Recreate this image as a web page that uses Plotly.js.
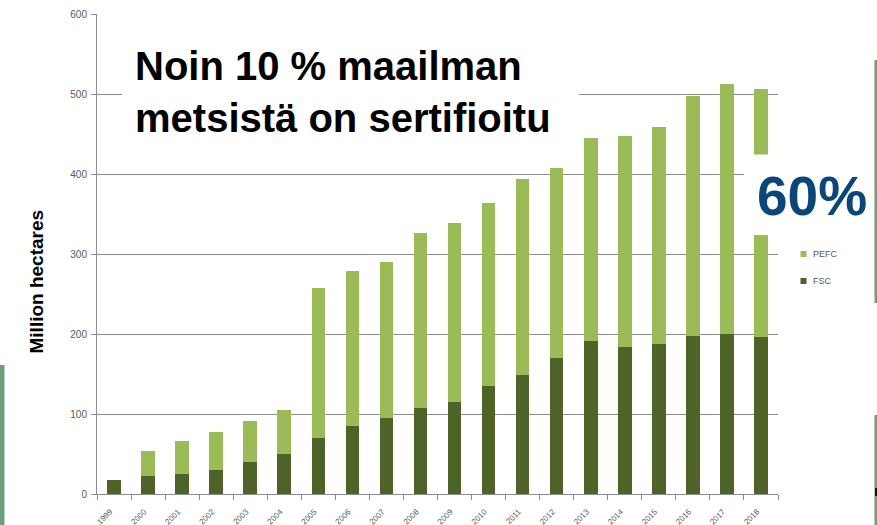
<!DOCTYPE html>
<html>
<head>
<meta charset="utf-8">
<script src="https://cdn.plot.ly/plotly-3.0.1.min.js"></script>
<style>html,body{margin:0;padding:0;background:#fff;}#chart{width:877px;height:525px;}</style>
</head>
<body>
<div id="chart"></div>
<script>
// ---- data ----
const years = ['1999','2000','2001','2002','2003','2004','2005','2006','2007','2008','2009','2010','2011','2012','2013','2014','2015','2016','2017','2018'];
const fsc  = [18, 22, 25, 30, 40, 50, 70, 85, 95, 108, 115, 135, 149, 170, 191, 184, 187, 197, 200, 196];
const pefc = [0, 32, 41, 47, 51, 55, 187, 194, 195, 218, 224, 229, 245, 237, 254, 263, 272, 301, 313, 310];
const seriesNames = ['FSC', 'PEFC'];
const titleText = 'Noin 10 % maailman<br>metsistä on sertifioitu';
const shareText = '60%';
const yTitle = 'Million hectares';

// ---- styling ----
const colFSC = '#4F6228', colPEFC = '#9BBB59';
const L = 97, R = 778, T = 14, B = 494;
const W = R - L, H = B - T;
const px = x => (x - L) / W;
const py = y => (B - y) / H;
const gray = '#8c8c8c', tickTxt = '#595959';
const deco = '#6f9d7a';

const traces = [
  {type: 'bar', name: seriesNames[0], x: years, y: fsc, marker: {color: colFSC}, showlegend: false},
  {type: 'bar', name: seriesNames[1], x: years, y: pefc, marker: {color: colPEFC}, showlegend: false}
];

function rect(x0, y0, x1, y1, color, layer) {
  return {type: 'rect', xref: 'paper', yref: 'paper', x0: px(x0), x1: px(x1), y0: py(y1), y1: py(y0),
          fillcolor: color, line: {width: 0}, layer: layer || 'above'};
}

const layout = {
  width: 877, height: 525,
  margin: {l: L, r: 877 - R, t: T, b: 525 - B, pad: 0},
  paper_bgcolor: '#fff', plot_bgcolor: '#fff',
  barmode: 'stack', bargap: 0.6,
  showlegend: false,
  xaxis: {
    type: 'category', showline: true, linecolor: gray, linewidth: 1,
    ticks: 'outside', tickson: 'boundaries', ticklen: 5, tickcolor: gray,
    tickangle: -45, tickfont: {family: 'Liberation Sans, Arial, sans-serif', size: 8, color: tickTxt},
    ticklabelstandoff: 9, ticklabelshift: -4,
    showgrid: false, zeroline: false
  },
  yaxis: {
    range: [0, 600], dtick: 100, tick0: 0,
    showline: true, linecolor: gray, linewidth: 1,
    ticks: 'outside', ticklen: 5, tickcolor: gray,
    showgrid: true, gridcolor: gray, gridwidth: 1, zeroline: false,
    tickfont: {family: 'Liberation Sans, Arial, sans-serif', size: 10, color: tickTxt},
    ticklabelstandoff: 2
  },
  shapes: [
    rect(122, 32, 579, 150, '#ffffff'),
    rect(744, 154.5, 880, 235, '#ffffff'),
    rect(800.5, 251, 806.5, 257, colPEFC),
    rect(800.5, 278, 806.5, 284, colFSC),
    rect(-1, 365, 4.5, 526, deco),
    rect(874.5, 60, 878, 303, deco),
    rect(874.5, 415, 878, 526, deco),
    rect(875, 488, 878, 496, '#111111')
  ],
  annotations: [
    {text: titleText, xref: 'paper', yref: 'paper', x: px(133), y: py(92), xanchor: 'left', yanchor: 'middle',
     align: 'left', showarrow: false, font: {family: 'Liberation Sans, Arial, sans-serif', size: 40, color: '#000', weight: 700}},
    {text: shareText, xref: 'paper', yref: 'paper', x: px(812), y: py(196), xanchor: 'center', yanchor: 'middle',
     showarrow: false, font: {family: 'Liberation Sans, Arial, sans-serif', size: 55, color: '#0b4679', weight: 700}},
    {text: yTitle, xref: 'paper', yref: 'paper', x: px(36), y: py(281.5), xanchor: 'center', yanchor: 'middle',
     textangle: -90, showarrow: false, font: {family: 'Liberation Sans, Arial, sans-serif', size: 19, color: '#000', weight: 700}},
    {text: seriesNames[1], xref: 'paper', yref: 'paper', x: px(811), y: py(254), xanchor: 'left', yanchor: 'middle',
     showarrow: false, font: {family: 'Liberation Sans, Arial, sans-serif', size: 9, color: tickTxt}},
    {text: seriesNames[0], xref: 'paper', yref: 'paper', x: px(811), y: py(281), xanchor: 'left', yanchor: 'middle',
     showarrow: false, font: {family: 'Liberation Sans, Arial, sans-serif', size: 9, color: tickTxt}}
  ]
};

Plotly.newPlot('chart', traces, layout, {displayModeBar: false, staticPlot: true});
</script>
</body>
</html>
